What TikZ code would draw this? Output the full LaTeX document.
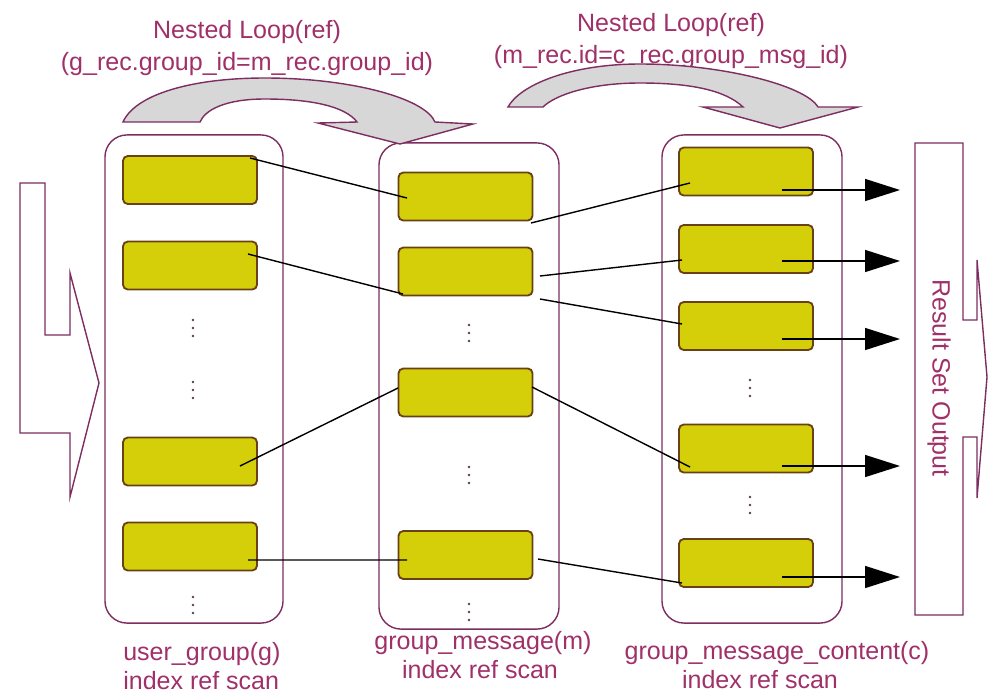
\documentclass[tikz,border=0pt]{standalone}
\usepackage{fontspec}
\setmainfont{Liberation Sans}
\usetikzlibrary{arrows.meta,calc}
\definecolor{plum}{RGB}{125,45,95}
\definecolor{rose}{RGB}{160,48,105}
\definecolor{recyel}{RGB}{212,207,8}
\definecolor{recbrd}{RGB}{105,65,20}
\definecolor{loopgray}{RGB}{215,215,215}
\definecolor{dotc}{RGB}{90,60,80}
\tikzset{
  tbl/.style={draw=plum,line width=1pt,rounded corners=0.55cm,inner sep=0pt},
  rec/.style={draw=recbrd,fill=recyel,line width=1.3pt,rounded corners=0.12cm,minimum width=3.35cm,minimum height=1.2cm,inner sep=0pt},
  lbl/.style={text=rose,font=\fontsize{17.8}{22.8}\selectfont,inner sep=0pt},
  link/.style={black,line width=1pt},
  outarr/.style={black,line width=1pt,-{Triangle[length=0.875cm,width=0.55cm]}},
  shell/.style={draw=plum,line width=1pt},
  looparr/.style={draw=plum,line width=1pt,fill=loopgray}
}
\begin{document}
\begin{tikzpicture}[x=0.025cm,y=-0.025cm]
  \useasboundingbox (0,0) rectangle (1003,698);
  % scan columns
  \node[tbl,minimum width=4.45cm,minimum height=12.2cm] (gcol) at (194,379) {};
  \node[tbl,minimum width=4.5cm,minimum height=12.15cm] (mcol) at (469,386) {};
  \node[tbl,minimum width=4.5cm,minimum height=12.2cm] (ccol) at (752,379) {};
  % rows
  \node[rec] (g1) at (190,180) {};
  \node[rec] (g2) at (190,265.5) {};
  \node[rec] (g3) at (190,461.5) {};
  \node[rec] (g4) at (190,546.5) {};
  \node[rec] (m1) at (465.5,196.5) {};
  \node[rec] (m2) at (465.5,271.5) {};
  \node[rec] (m3) at (465.5,392.5) {};
  \node[rec] (m4) at (465.5,555) {};
  \node[rec] (c1) at (746,171.5) {};
  \node[rec] (c2) at (746,249) {};
  \node[rec] (c3) at (746,326) {};
  \node[rec] (c4) at (746,448.5) {};
  \node[rec] (c5) at (746,563) {};
  \foreach \x/\y in {193/328,193/390,193/605,469/333,469/475,469/612,750/388,750/505}
    \foreach \d in {-8,0,8} \fill[dotc] (\x,\y+\d) circle (0.035cm);
  % join lines
  \draw[link] ($(g1.center)+(60,-22)$) -- ($(m1.center)+(-58.5,1.5)$);
  \draw[link] ($(g2.center)+(58,-11.5)$) -- ($(m2.center)+(-62.5,22.5)$);
  \draw[link] ($(g3.center)+(50,4.5)$) -- ($(m3.center)+(-67.5,-4.5)$);
  \draw[link] ($(g4.center)+(58,13.5)$) -- ($(m4.center)+(-58.5,5)$);
  \draw[link] ($(m1.center)+(65.5,26.5)$) -- ($(c1.center)+(-56,11.5)$);
  \draw[link] ($(m2.center)+(74.5,4.5)$) -- ($(c2.center)+(-64,11)$);
  \draw[link] ($(m2.center)+(74.5,27.5)$) -- ($(c3.center)+(-64,-2)$);
  \draw[link] ($(m3.center)+(66.5,-5.5)$) -- ($(c4.center)+(-56,18.5)$);
  \draw[link] ($(m4.center)+(72.5,4)$) -- ($(c5.center)+(-64,20)$);
  \foreach \i/\dy in {1/18.5,2/12,3/13,4/17.5,5/14}
    \draw[outarr] ($(c\i.center)+(36,\dy)$) -- ++(118,0);
  % input and output arrows
  \draw[shell] (20,183) -- (45,183) -- (45,335) -- (70,335) -- (70,273) -- (99,383)
    -- (70,497) -- (70,433) -- (20,433) -- cycle;
  \draw[shell] (915,143) -- (963,143) -- (963,320) -- (977,320) -- (977,260) -- (987,377)
    -- (977,498) -- (977,437) -- (963,437) -- (963,615) -- (915,615) -- cycle;
  \node[lbl,rotate=-90] (resout) at (939,378) {Result Set Output};
  % nested loop labels
  \node[lbl,align=center] (loopgm) at (247,48) {Nested Loop(ref)\\(g\_rec.group\_id=m\_rec.group\_id)};
  \node[lbl,align=center] (loopmc) at (671,41) {Nested Loop(ref)\\(m\_rec.id=c\_rec.group\_msg\_id)};
  \draw[looparr] (123,122) .. controls (135,95) and (190,78) .. (265,78)
    .. controls (350,78) and (425,98) .. (435,122) -- (473,124) -- (400,144) -- (318,123)
    -- (357,122) .. controls (345,106) and (310,99) .. (265,99)
    .. controls (225,99) and (205,110) .. (200,122) -- cycle;
  \draw[looparr] (508,107) .. controls (520,85) and (570,64) .. (640,64)
    .. controls (720,64) and (805,85) .. (818,107) -- (858,107) -- (780,128) -- (703,107)
    -- (743,107) .. controls (725,90) and (690,83) .. (640,83)
    .. controls (590,83) and (555,95) .. (543,107) -- cycle;
  % table names
  \node[lbl,anchor=west] (gname) at (123,654) {user\_group(g)};
  \node[lbl,anchor=west] (gscan) at (123,681) {index ref scan};
  \node[lbl] (mname) at (483,643) {group\_message(m)};
  \node[lbl] (mscan) at (480,670) {index ref scan};
  \node[lbl] (cname) at (777,653) {group\_message\_content(c)};
  \node[lbl] (cscan) at (760,680) {index ref scan};
\end{tikzpicture}
\end{document}
